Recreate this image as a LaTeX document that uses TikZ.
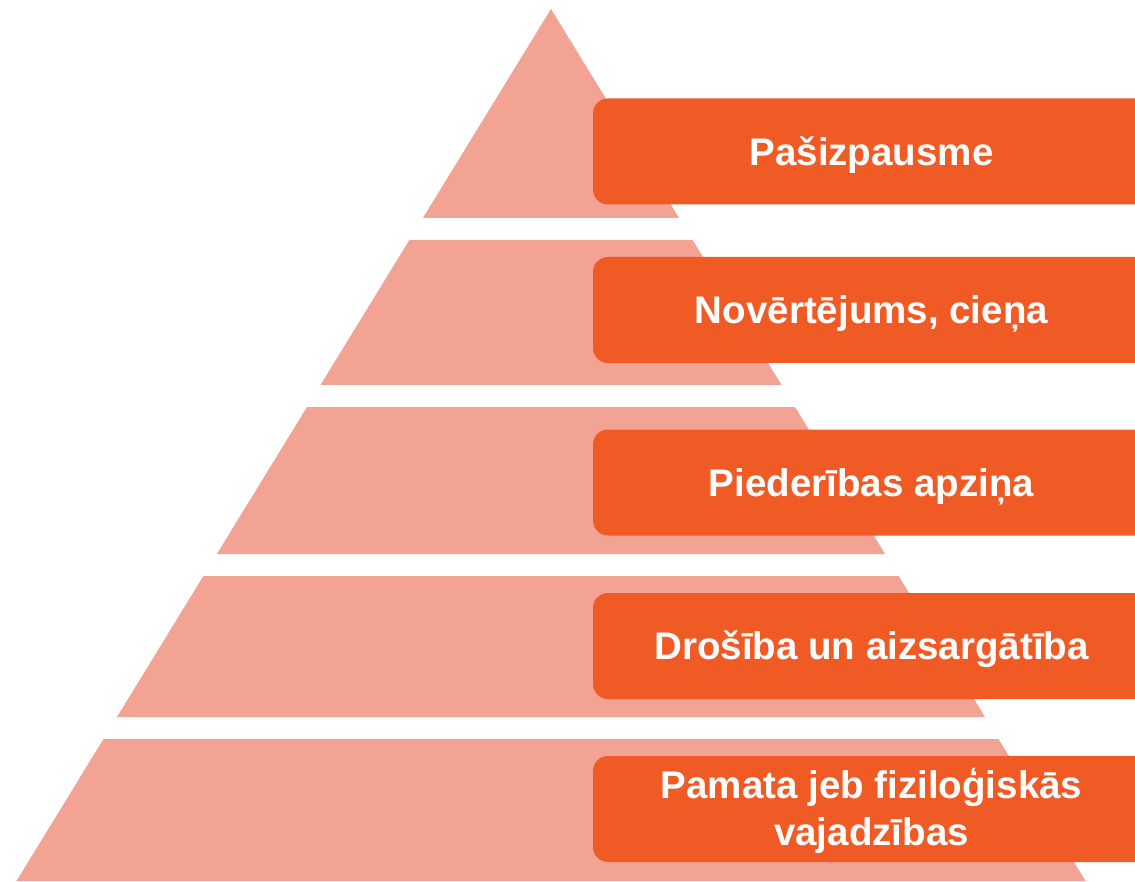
\documentclass[tikz,border=0pt]{standalone}
\usepackage{fontspec}
\setmainfont{Liberation Sans}
\definecolor{pale}{HTML}{F3A394}
\definecolor{orng}{HTML}{EF5A25}
\begin{document}
\begin{tikzpicture}[x=1pt,y=-1pt,
  tier/.style={fill=pale,draw=none},
  labelfont/.style={text=white,font=\fontsize{38.5}{47}\selectfont\bfseries},
  label/.style={rectangle,rounded corners=15pt,fill=orng,draw=none,labelfont,
    minimum width=557pt,minimum height=106pt,
    inner sep=0pt,text height=27.6pt,text depth=0pt}]
\clip (0,0) rectangle (1135,882);
\fill[white] (0,0) rectangle (1135,882);
% tiers
\path[tier] (551,9) -- (679.1,218) -- (422.9,218) -- cycle;
\path[tier] (409.4,240) -- (692.6,240) -- (781.5,385) -- (320.5,385) -- cycle;
\path[tier] (307.0,407) -- (795.0,407) -- (885.1,554) -- (216.9,554) -- cycle;
\path[tier] (203.4,576) -- (898.6,576) -- (985.0,717) -- (117.0,717) -- cycle;
\path[tier] (103.5,739) -- (998.5,739) -- (1085.5,881) -- (16.5,881) -- cycle;
% labels
\node[label] (b1) at (871.5,151.5) {Pašizpausme};
\node[label] (b2) at (871.5,310) {Novērtējums, cieņa};
\node[label] (b3) at (871.5,482.5) {Piederības apziņa};
\node[label] (b4) at (871.5,646) {Drošība un aizsargātība};
\node[label] (b5) at (871.5,809) {};
\node[labelfont,align=center,anchor=base,inner sep=0pt] (t5) at (871.5,845) {Pamata jeb fiziloģiskās\\vajadzības};
\end{tikzpicture}
\end{document}
